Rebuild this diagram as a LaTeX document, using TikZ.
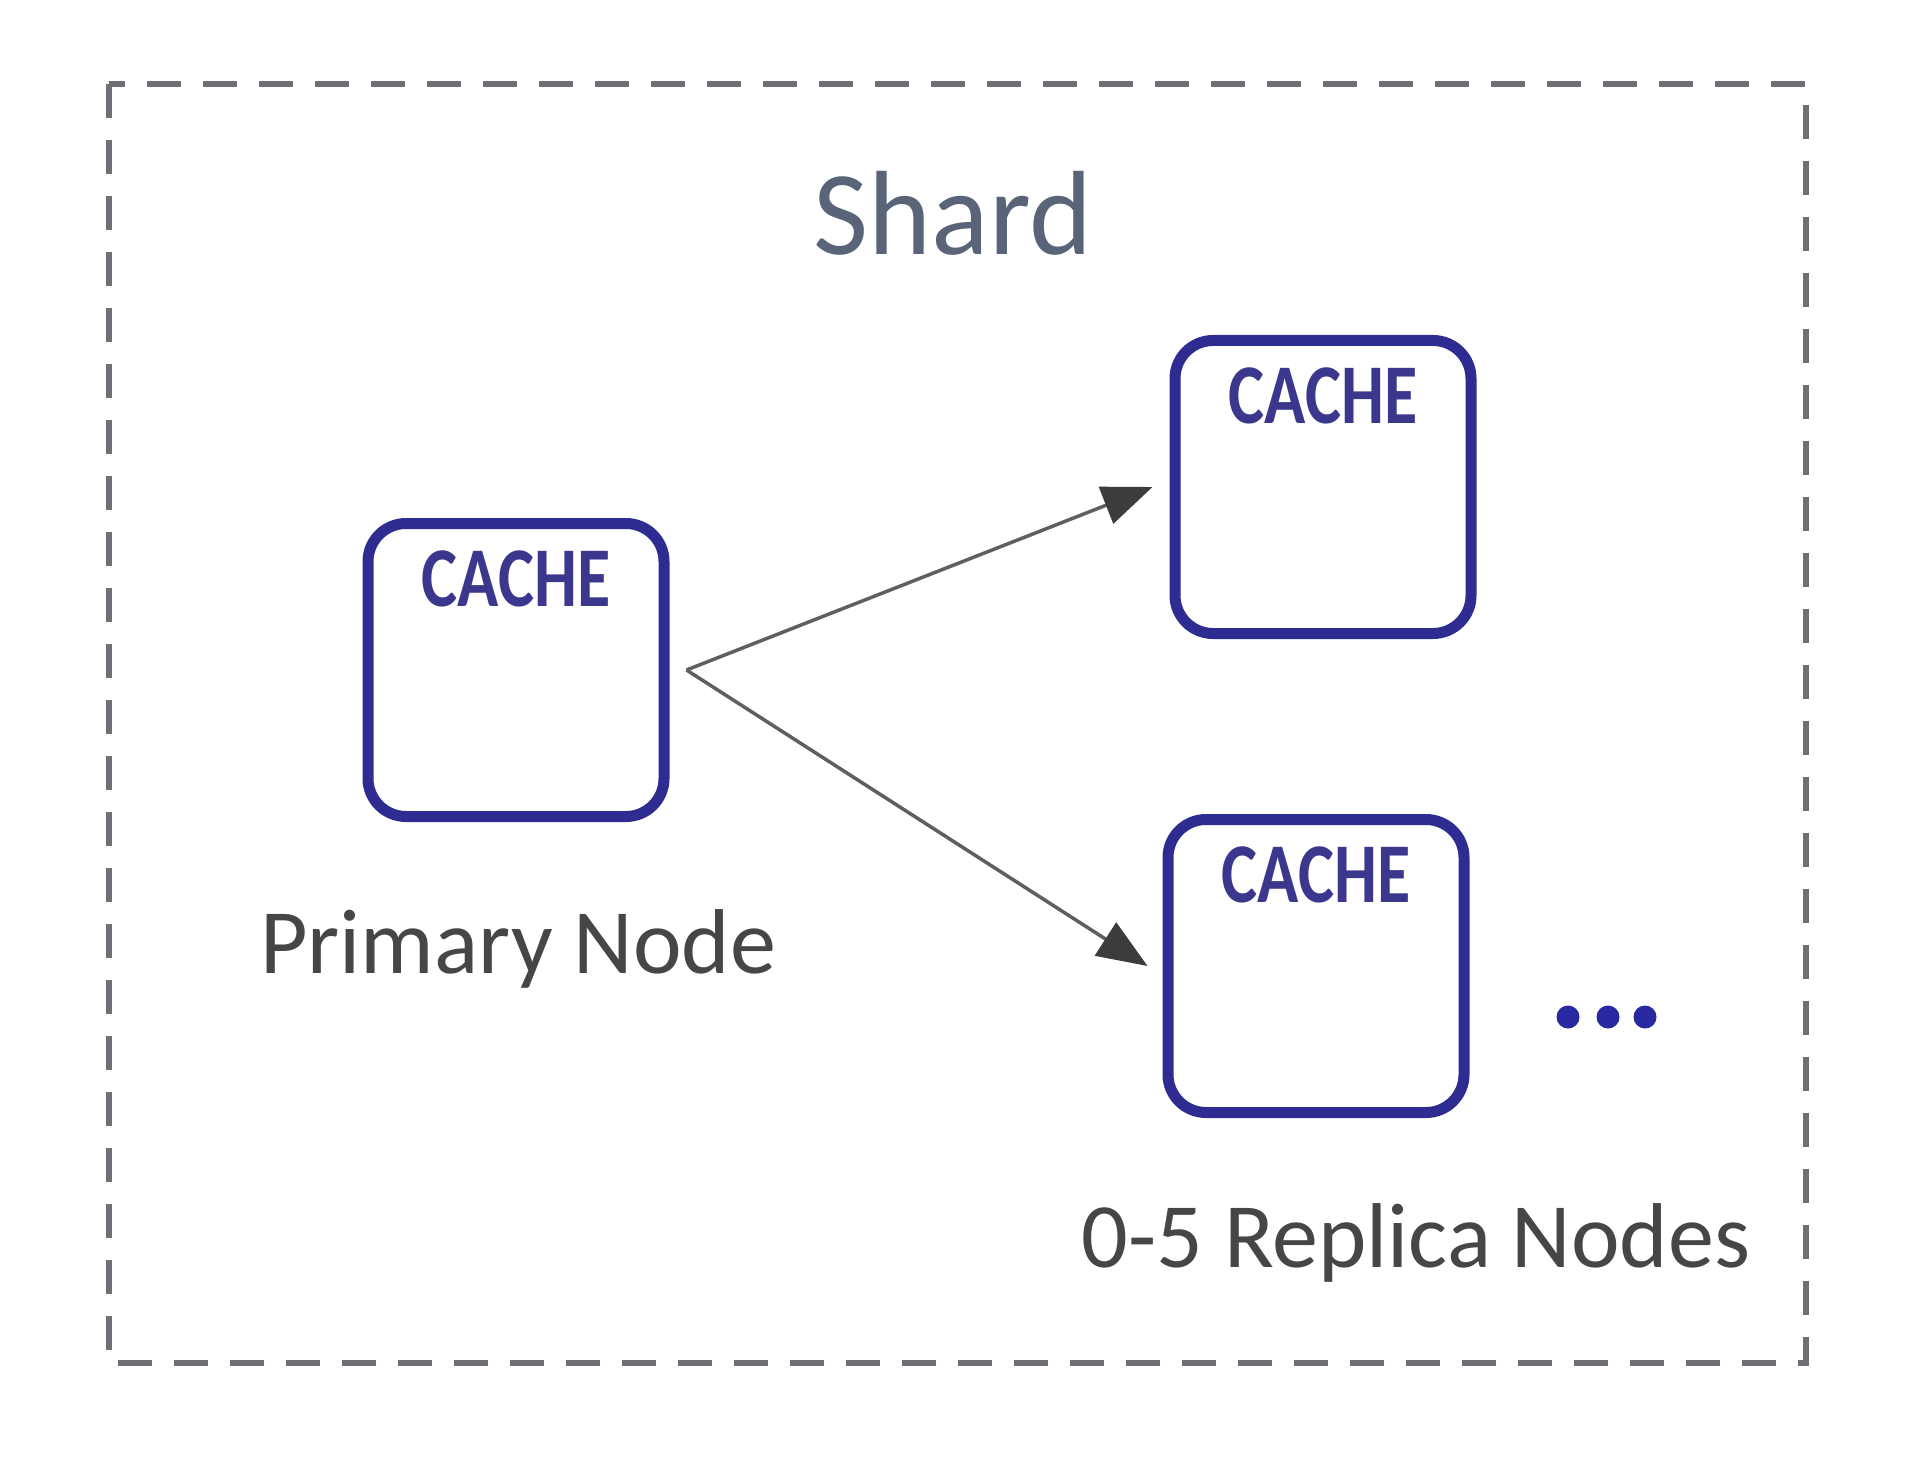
\documentclass[tikz,border=0pt]{standalone}
\usepackage{fontspec}
\setmainfont{Carlito}
\newfontfamily\cachefont[FakeStretch=0.80]{Carlito}
\usepackage{xcolor}
\usetikzlibrary{positioning, arrows.meta, calc}

\definecolor{cacheblue}{RGB}{46,43,145}
\definecolor{cachetext}{RGB}{58,55,140}
\definecolor{shardgray}{RGB}{90,100,120}
\definecolor{labelgray}{RGB}{70,70,70}
\definecolor{dashgray}{RGB}{110,112,118}
\definecolor{linegray}{RGB}{95,95,95}
\definecolor{headgray}{RGB}{60,60,60}
\definecolor{dotblue}{RGB}{40,40,160}

\begin{document}
\begin{tikzpicture}[
    cache/.style={draw=cacheblue, line width=0.11cm, rounded corners=0.38cm, minimum width=2.96cm, minimum height=2.93cm, fill=white},
    cachetxt/.style={font=\cachefont\bfseries\fontsize{24.2}{26}\selectfont, text=cachetext, inner sep=0pt},
    caption/.style={font=\fontsize{26.2}{30}\selectfont, text=labelgray, inner sep=0pt},
    arrow/.style={-{Triangle[length=5mm, width=3.9mm, color=headgray]}, draw=linegray, line width=0.035cm}
]
\useasboundingbox (0,0) rectangle (19.2,14.74);

% Shard border
\draw[draw=dashgray, line width=0.06cm, dash pattern=on 0.34cm off 0.22cm] (1.09,13.90) rectangle (18.06,1.11);
\node[font=\fontsize{34.1}{40}\selectfont, text=shardgray, anchor=base, inner sep=0pt] (shard) at (9.53,12.19) {Shard};

% Cache nodes
\node[cache] (primary) at (5.16,8.04) {};
\node[cache] (rep1) at (13.23,9.87) {};
\node[cache] (rep2) at (13.16,5.08) {};

\node[cachetxt, below=0.32cm of primary.north] (primarytxt) {CACHE};
\node[cachetxt, below=0.32cm of rep1.north] (rep1txt) {CACHE};
\node[cachetxt, below=0.32cm of rep2.north] (rep2txt) {CACHE};

% Labels
\node[caption, anchor=base] (primarylabel) at (5.18,5.01) {Primary Node};
\node[caption, anchor=base] (replabel) at (14.16,2.07) {0-5 Replica Nodes};

% More replicas
\foreach \x in {15.68,16.08,16.45}
    \fill[dotblue] (\x,4.57) circle (0.115);

% Replication arrows
\coordinate (split) at ($(primary.east)+(0.17,0)$);
\draw[arrow] (split) -- ([xshift=-0.17cm]rep1.west);
\draw[arrow] (split) -- ([xshift=-0.15cm]rep2.west);

\end{tikzpicture}
\end{document}
